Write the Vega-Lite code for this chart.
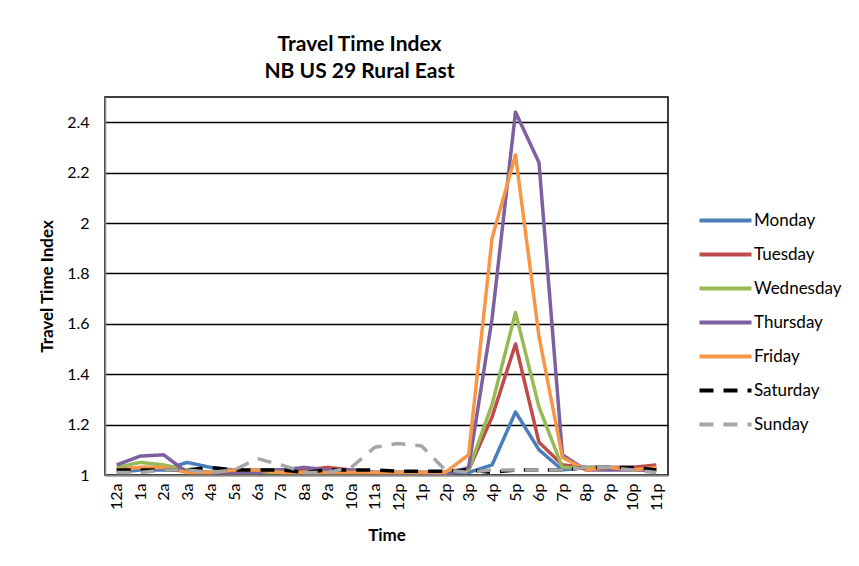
{
  "$schema": "https://vega.github.io/schema/vega-lite/v6.json",
  "width": 563,
  "height": 378,
  "autosize": {"type": "none"},
  "padding": {"left": 105, "top": 97, "right": 191, "bottom": 91},
  "background": "white",
  "title": {
    "text": ["Travel Time Index", "NB US 29 Rural East"],
    "anchor": "middle",
    "dx": -27,
    "offset": 15,
    "font": "Lato",
    "fontSize": 21,
    "fontWeight": "bold",
    "color": "#000000",
    "lineHeight": 27
  },
  "config": {
    "font": "Lato",
    "view": {"stroke": "#000000", "strokeWidth": 1.5},
    "axis": {"labelFont": "Lato", "titleFont": "Lato", "labelColor": "#000000", "titleColor": "#000000"}
  },
  "data": {
    "values": [
      {"time":"12a","day":"Monday","tti":1.01},{"time":"1a","day":"Monday","tti":1.02},{"time":"2a","day":"Monday","tti":1.02},{"time":"3a","day":"Monday","tti":1.05},{"time":"4a","day":"Monday","tti":1.03},{"time":"5a","day":"Monday","tti":1.02},{"time":"6a","day":"Monday","tti":1.02},{"time":"7a","day":"Monday","tti":1.02},{"time":"8a","day":"Monday","tti":1.02},{"time":"9a","day":"Monday","tti":1.02},{"time":"10a","day":"Monday","tti":1.02},{"time":"11a","day":"Monday","tti":1.01},{"time":"12p","day":"Monday","tti":1.01},{"time":"1p","day":"Monday","tti":1.01},{"time":"2p","day":"Monday","tti":1.01},{"time":"3p","day":"Monday","tti":1.01},{"time":"4p","day":"Monday","tti":1.04},{"time":"5p","day":"Monday","tti":1.25},{"time":"6p","day":"Monday","tti":1.1},{"time":"7p","day":"Monday","tti":1.02},{"time":"8p","day":"Monday","tti":1.03},{"time":"9p","day":"Monday","tti":1.03},{"time":"10p","day":"Monday","tti":1.03},{"time":"11p","day":"Monday","tti":1.03},
      {"time":"12a","day":"Tuesday","tti":1.02},{"time":"1a","day":"Tuesday","tti":1.03},{"time":"2a","day":"Tuesday","tti":1.03},{"time":"3a","day":"Tuesday","tti":1.02},{"time":"4a","day":"Tuesday","tti":1.01},{"time":"5a","day":"Tuesday","tti":1.01},{"time":"6a","day":"Tuesday","tti":1.01},{"time":"7a","day":"Tuesday","tti":1.02},{"time":"8a","day":"Tuesday","tti":1.02},{"time":"9a","day":"Tuesday","tti":1.03},{"time":"10a","day":"Tuesday","tti":1.02},{"time":"11a","day":"Tuesday","tti":1.01},{"time":"12p","day":"Tuesday","tti":1.01},{"time":"1p","day":"Tuesday","tti":1.01},{"time":"2p","day":"Tuesday","tti":1.01},{"time":"3p","day":"Tuesday","tti":1.02},{"time":"4p","day":"Tuesday","tti":1.23},{"time":"5p","day":"Tuesday","tti":1.52},{"time":"6p","day":"Tuesday","tti":1.13},{"time":"7p","day":"Tuesday","tti":1.04},{"time":"8p","day":"Tuesday","tti":1.03},{"time":"9p","day":"Tuesday","tti":1.03},{"time":"10p","day":"Tuesday","tti":1.03},{"time":"11p","day":"Tuesday","tti":1.04},
      {"time":"12a","day":"Wednesday","tti":1.03},{"time":"1a","day":"Wednesday","tti":1.05},{"time":"2a","day":"Wednesday","tti":1.04},{"time":"3a","day":"Wednesday","tti":1.02},{"time":"4a","day":"Wednesday","tti":1.01},{"time":"5a","day":"Wednesday","tti":1.01},{"time":"6a","day":"Wednesday","tti":1.01},{"time":"7a","day":"Wednesday","tti":1.01},{"time":"8a","day":"Wednesday","tti":1.01},{"time":"9a","day":"Wednesday","tti":1.01},{"time":"10a","day":"Wednesday","tti":1.01},{"time":"11a","day":"Wednesday","tti":1.01},{"time":"12p","day":"Wednesday","tti":1.01},{"time":"1p","day":"Wednesday","tti":1.01},{"time":"2p","day":"Wednesday","tti":1.01},{"time":"3p","day":"Wednesday","tti":1.02},{"time":"4p","day":"Wednesday","tti":1.28},{"time":"5p","day":"Wednesday","tti":1.645},{"time":"6p","day":"Wednesday","tti":1.27},{"time":"7p","day":"Wednesday","tti":1.03},{"time":"8p","day":"Wednesday","tti":1.03},{"time":"9p","day":"Wednesday","tti":1.03},{"time":"10p","day":"Wednesday","tti":1.02},{"time":"11p","day":"Wednesday","tti":1.02},
      {"time":"12a","day":"Thursday","tti":1.04},{"time":"1a","day":"Thursday","tti":1.075},{"time":"2a","day":"Thursday","tti":1.08},{"time":"3a","day":"Thursday","tti":1.01},{"time":"4a","day":"Thursday","tti":1.01},{"time":"5a","day":"Thursday","tti":1.01},{"time":"6a","day":"Thursday","tti":1.01},{"time":"7a","day":"Thursday","tti":1.02},{"time":"8a","day":"Thursday","tti":1.03},{"time":"9a","day":"Thursday","tti":1.02},{"time":"10a","day":"Thursday","tti":1.02},{"time":"11a","day":"Thursday","tti":1.01},{"time":"12p","day":"Thursday","tti":1.01},{"time":"1p","day":"Thursday","tti":1.01},{"time":"2p","day":"Thursday","tti":1.0},{"time":"3p","day":"Thursday","tti":1.03},{"time":"4p","day":"Thursday","tti":1.62},{"time":"5p","day":"Thursday","tti":2.44},{"time":"6p","day":"Thursday","tti":2.24},{"time":"7p","day":"Thursday","tti":1.08},{"time":"8p","day":"Thursday","tti":1.02},{"time":"9p","day":"Thursday","tti":1.02},{"time":"10p","day":"Thursday","tti":1.02},{"time":"11p","day":"Thursday","tti":1.02},
      {"time":"12a","day":"Friday","tti":1.02},{"time":"1a","day":"Friday","tti":1.03},{"time":"2a","day":"Friday","tti":1.03},{"time":"3a","day":"Friday","tti":1.01},{"time":"4a","day":"Friday","tti":1.01},{"time":"5a","day":"Friday","tti":1.02},{"time":"6a","day":"Friday","tti":1.02},{"time":"7a","day":"Friday","tti":1.01},{"time":"8a","day":"Friday","tti":1.01},{"time":"9a","day":"Friday","tti":1.01},{"time":"10a","day":"Friday","tti":1.01},{"time":"11a","day":"Friday","tti":1.01},{"time":"12p","day":"Friday","tti":1.01},{"time":"1p","day":"Friday","tti":1.01},{"time":"2p","day":"Friday","tti":1.01},{"time":"3p","day":"Friday","tti":1.08},{"time":"4p","day":"Friday","tti":1.94},{"time":"5p","day":"Friday","tti":2.27},{"time":"6p","day":"Friday","tti":1.55},{"time":"7p","day":"Friday","tti":1.07},{"time":"8p","day":"Friday","tti":1.02},{"time":"9p","day":"Friday","tti":1.03},{"time":"10p","day":"Friday","tti":1.02},{"time":"11p","day":"Friday","tti":1.03},
      {"time":"12a","day":"Saturday","tti":1.02},{"time":"1a","day":"Saturday","tti":1.02},{"time":"2a","day":"Saturday","tti":1.02},{"time":"3a","day":"Saturday","tti":1.02},{"time":"4a","day":"Saturday","tti":1.03},{"time":"5a","day":"Saturday","tti":1.02},{"time":"6a","day":"Saturday","tti":1.02},{"time":"7a","day":"Saturday","tti":1.02},{"time":"8a","day":"Saturday","tti":1.01},{"time":"9a","day":"Saturday","tti":1.02},{"time":"10a","day":"Saturday","tti":1.02},{"time":"11a","day":"Saturday","tti":1.02},{"time":"12p","day":"Saturday","tti":1.015},{"time":"1p","day":"Saturday","tti":1.015},{"time":"2p","day":"Saturday","tti":1.015},{"time":"3p","day":"Saturday","tti":1.02},{"time":"4p","day":"Saturday","tti":1.01},{"time":"5p","day":"Saturday","tti":1.02},{"time":"6p","day":"Saturday","tti":1.02},{"time":"7p","day":"Saturday","tti":1.02},{"time":"8p","day":"Saturday","tti":1.03},{"time":"9p","day":"Saturday","tti":1.03},{"time":"10p","day":"Saturday","tti":1.03},{"time":"11p","day":"Saturday","tti":1.02},
      {"time":"12a","day":"Sunday","tti":1.01},{"time":"1a","day":"Sunday","tti":1.01},{"time":"2a","day":"Sunday","tti":1.02},{"time":"3a","day":"Sunday","tti":1.02},{"time":"4a","day":"Sunday","tti":1.01},{"time":"5a","day":"Sunday","tti":1.02},{"time":"6a","day":"Sunday","tti":1.065},{"time":"7a","day":"Sunday","tti":1.04},{"time":"8a","day":"Sunday","tti":1.01},{"time":"9a","day":"Sunday","tti":1.01},{"time":"10a","day":"Sunday","tti":1.03},{"time":"11a","day":"Sunday","tti":1.11},{"time":"12p","day":"Sunday","tti":1.125},{"time":"1p","day":"Sunday","tti":1.115},{"time":"2p","day":"Sunday","tti":1.02},{"time":"3p","day":"Sunday","tti":1.01},{"time":"4p","day":"Sunday","tti":1.02},{"time":"5p","day":"Sunday","tti":1.02},{"time":"6p","day":"Sunday","tti":1.02},{"time":"7p","day":"Sunday","tti":1.02},{"time":"8p","day":"Sunday","tti":1.03},{"time":"9p","day":"Sunday","tti":1.03},{"time":"10p","day":"Sunday","tti":1.02},{"time":"11p","day":"Sunday","tti":1.01}
    ]
  },
  "mark": {"type": "line", "strokeWidth": 3.5, "strokeJoin": "round", "clip": true},
  "encoding": {
    "x": {
      "field": "time",
      "type": "ordinal",
      "sort": ["12a","1a","2a","3a","4a","5a","6a","7a","8a","9a","10a","11a","12p","1p","2p","3p","4p","5p","6p","7p","8p","9p","10p","11p"],
      "title": "Time",
      "axis": {
        "labelAngle": -90,
        "labelFontSize": 16,
        "labelPadding": 8,
        "ticks": false,
        "domainColor": "#868686",
        "domainWidth": 1.5,
        "titleFontSize": 17,
        "titleFontWeight": "bold",
        "titlePadding": 17
      }
    },
    "y": {
      "field": "tti",
      "type": "quantitative",
      "title": "Travel Time Index",
      "scale": {"domain": [1, 2.5], "nice": false, "zero": false},
      "axis": {
        "values": [1, 1.2, 1.4, 1.6, 1.8, 2, 2.2, 2.4],
        "format": ".1~f",
        "labelFontSize": 16,
        "labelPadding": 16,
        "ticks": false,
        "domainColor": "#868686",
        "domainWidth": 1.5,
        "gridColor": "#000000",
        "gridWidth": 1.5,
        "gridOpacity": 1,
        "titleFontSize": 17,
        "titleFontWeight": "bold",
        "titlePadding": 10
      }
    },
    "color": {
      "field": "day",
      "type": "nominal",
      "sort": ["Monday","Tuesday","Wednesday","Thursday","Friday","Saturday","Sunday"],
      "scale": {
        "domain": ["Monday","Tuesday","Wednesday","Thursday","Friday","Saturday","Sunday"],
        "range": ["#4A7EBB","#BE4B48","#98B954","#7D60A0","#F79646","#000000","#A6A6A6"]
      },
      "legend": {
        "title": null,
        "orient": "none",
        "legendX": 601,
        "legendY": 104,
        "symbolType": "M-1.5,0H1.5",
        "symbolSize": 1202,
        "symbolStrokeWidth": 4,
        "labelFont": "Lato",
        "labelFontSize": 17,
        "labelColor": "#000000",
        "labelOffset": 9,
        "rowPadding": 6
      }
    },
    "strokeDash": {
      "field": "day",
      "type": "nominal",
      "sort": ["Monday","Tuesday","Wednesday","Thursday","Friday","Saturday","Sunday"],
      "scale": {
        "domain": ["Monday","Tuesday","Wednesday","Thursday","Friday","Saturday","Sunday"],
        "range": [[1,0],[1,0],[1,0],[1,0],[1,0],[14,10],[14,10]]
      },
      "legend": {
        "title": null,
        "orient": "none",
        "legendX": 601,
        "legendY": 104,
        "symbolType": "M-1.5,0H1.5",
        "symbolSize": 1202,
        "symbolStrokeWidth": 4,
        "labelFont": "Lato",
        "labelFontSize": 17,
        "labelColor": "#000000",
        "labelOffset": 9,
        "rowPadding": 6
      }
    }
  }
}
